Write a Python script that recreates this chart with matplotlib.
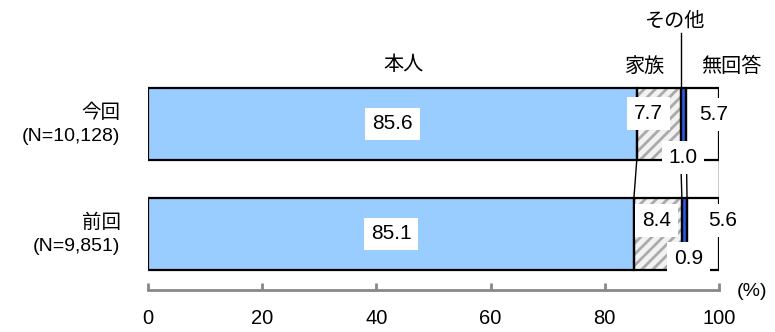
import matplotlib
matplotlib.use("Agg")
import matplotlib.pyplot as plt
import numpy as np

plt.rcParams['font.family'] = ['Liberation Sans', 'Noto Sans CJK JP', 'DejaVu Sans']
plt.rcParams['hatch.linewidth'] = 2.0

# data
rows = ["今回\n(N=10,128)", "前回\n(N=9,851)"]
segments = ["本人", "家族", "その他", "無回答"]
values = np.array([
    [85.6, 7.7, 1.0, 5.7],
    [85.1, 8.4, 0.9, 5.6],
])
colors = ["#99CCFF", "#F2F2F2", "#2E5BE6", "#FFFFFF"]
hatches = [None, "///", None, None]

fig = plt.figure(figsize=(7.75, 3.32), dpi=100)
ax = fig.add_axes([148/775, 42/332, 571/775, 270/332])

ypos = np.arange(len(rows))
h = 0.655
lefts = np.zeros(len(rows))
for j, seg in enumerate(segments):
    ax.bar(lefts + values[:, j] / 2, h, width=values[:, j], bottom=ypos - h / 2,
           color=colors[j], hatch=hatches[j], edgecolor="#AAAAAA", linewidth=0, zorder=2)
    ax.bar(lefts + values[:, j] / 2, h, width=values[:, j], bottom=ypos - h / 2,
           fill=False, edgecolor="black", linewidth=1.6, zorder=3)
    lefts = lefts + values[:, j]

# connector lines between bars
cum = np.cumsum(values, axis=1)
for k in range(cum.shape[1]):
    ax.plot([cum[0, k], cum[1, k]], [ypos[0] + h / 2, ypos[1] - h / 2],
            color="black", lw=1, zorder=1)

ax.set_xlim(0, 100)
ax.set_ylim(1.509, -0.945)

# value labels
box = dict(facecolor="white", edgecolor="none", pad=5)
fs = 15
pos = [
    [(values[0, 0] / 2, 0), (87.7, -0.095), (93.7, 0.305), (99.1, -0.086)],
    [(values[1, 0] / 2, 1), (89.0, 0.877), (94.7, 1.22), (100.7, 0.88)],
]
for i in range(values.shape[0]):
    for j in range(values.shape[1]):
        x, y = pos[i][j]
        ax.text(x, y, f"{values[i, j]:.1f}", ha="center", va="center",
                fontsize=fs, bbox=box, zorder=5, clip_on=False)

# segment names
ax.text(44.7, -0.545, segments[0], ha="center", va="center", fontsize=14.5, clip_on=False)
ax.text(87.0, -0.52, segments[1], ha="center", va="center", fontsize=14.5, clip_on=False)
ax.text(102.1, -0.52, segments[3], ha="center", va="center", fontsize=14.5, clip_on=False)
ax.text(92.4, -0.93, segments[2], ha="center", va="center", fontsize=14.5, clip_on=False)
ax.plot([93.3, 93.3], [-0.83, -h / 2], color="black", lw=1, clip_on=False)

# row labels
for i, lab in enumerate(rows):
    ax.text(-4.8, ypos[i], lab, ha="right", va="center", fontsize=14, linespacing=1.45, clip_on=False)

# x axis
for s in ["top", "right", "left"]:
    ax.spines[s].set_visible(False)
ax.spines["bottom"].set_color("#888888")
ax.spines["bottom"].set_linewidth(2)
ax.set_yticks([])
ax.set_xticks(np.arange(0, 101, 20))
ax.tick_params(axis="x", direction="in", length=5, width=2, color="#888888", labelsize=14.5, pad=14)
ax.text(105.8, 1.527, "(%)", ha="center", va="center", fontsize=14, clip_on=False)

fig.savefig("out.png", dpi=100)
